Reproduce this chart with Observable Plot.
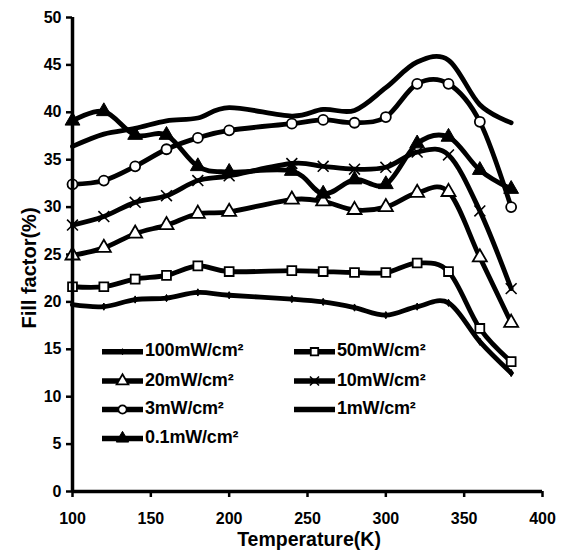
<!DOCTYPE html>
<html><head><meta charset="utf-8">
<script src="https://cdn.jsdelivr.net/npm/d3@7"></script>
<script src="https://cdn.jsdelivr.net/npm/@observablehq/plot@0.6"></script>
<style>
body{margin:0;background:#fff}
#chart{position:relative;width:564px;height:556px}
</style>
</head><body><div id="chart"></div>
<script>
// ---- data ----
const temperature = [100,120,140,160,180,200,240,260,280,300,320,340,360,380];
const seriesNames = ["100mW/cm²","50mW/cm²","20mW/cm²","10mW/cm²","3mW/cm²","1mW/cm²","0.1mW/cm²"];
const ff100 = [19.7,19.5,20.25,20.4,21.0,20.7,20.3,20.0,19.4,18.6,19.5,19.9,15.8,12.5];
const ff50  = [21.6,21.6,22.4,22.8,23.8,23.2,23.3,23.2,23.1,23.1,24.1,23.2,17.2,13.7];
const ff20  = [24.9,25.7,27.2,28.1,29.3,29.5,30.8,30.6,29.7,30.0,31.5,31.6,24.7,17.8];
const ff10  = [28.1,29.0,30.5,31.2,32.8,33.3,34.6,34.3,34.0,34.2,35.8,35.5,29.6,21.4];
const ff3   = [32.4,32.8,34.3,36.1,37.3,38.1,38.8,39.2,38.9,39.5,43.0,43.0,39.0,30.0];
const ff1   = [36.4,37.7,38.3,39.1,39.4,40.5,39.6,40.3,40.2,42.6,45.3,45.5,40.8,38.9];
const ff01  = [39.1,40.1,37.6,37.6,34.3,33.7,33.8,31.4,32.9,32.4,36.7,37.4,33.9,31.9];
const xTicks = [100,150,200,250,300,350,400];
const yTicks = [0,5,10,15,20,25,30,35,40,45,50];
const xTitle = "Temperature(K)";
const yTitle = "Fill factor(%)";

// ---- styling per series ----
const seriesValues = [ff100, ff50, ff20, ff10, ff3, ff1, ff01];
const markerStyle = [
  {symbol:"diamond", fill:"black", stroke:"black", r:2.2, sw:1},
  {symbol:"square", fill:"white", stroke:"black", r:5, sw:1.8},
  {symbol:"triangle", fill:"white", stroke:"black", r:5.2, sw:1.8},
  {symbol:"times", fill:"none", stroke:"black", r:5, sw:1.6},
  {symbol:"circle", fill:"white", stroke:"black", r:5, sw:1.8},
  null,
  {symbol:"triangle", fill:"black", stroke:"black", r:5.5, sw:1}
];

const data = seriesValues.flatMap((vals, i) =>
  vals.map((v, j) => ({T: temperature[j], ff: v, s: seriesNames[i], k: i})));

const FONT = "'Liberation Sans', Arial, Helvetica, sans-serif";

const dotMarks = markerStyle.map((m, i) => m ? Plot.dot(data.filter(d => d.k === i), {
  x: "T", y: "ff", symbol: () => m.symbol, r: m.r, fill: m.fill, stroke: m.stroke, strokeWidth: m.sw
}) : null).filter(Boolean);

const chart = Plot.plot({
  width: 564, height: 556,
  marginLeft: 72, marginRight: 22, marginTop: 17, marginBottom: 65,
  style: {fontFamily: FONT, fontWeight: "bold", fontSize: "16px", color: "black", background: "white"},
  x: {domain: [100, 400], ticks: xTicks},
  y: {domain: [0, 50], ticks: yTicks},
  symbol: {type: "identity"},
  marks: [
    Plot.axisX({ticks: xTicks, tickSize: 6, tickPadding: 15, strokeWidth: 2.5, label: null, fontSize: 16}),
    Plot.axisY({ticks: yTicks, tickSize: 6, tickPadding: 5, strokeWidth: 2.5, label: null, fontSize: 16}),
    Plot.line(data, {x: "T", y: "ff", z: "s", curve: "cardinal", stroke: "black", strokeWidth: 4.8, strokeLinejoin: "round"}),
    ...dotMarks,
    Plot.ruleX([100], {strokeWidth: 3.5}),
    Plot.ruleY([0], {strokeWidth: 3.5})
  ]
});
document.getElementById("chart").appendChild(chart);

// ---- titles & legend (drawn into the Plot svg) ----
const svg = d3.select(chart);
svg.append("text").attr("x", 309).attr("y", 541).attr("text-anchor", "middle")
  .attr("dominant-baseline", "middle").style("font", `bold 19.5px ${FONT}`).text(xTitle);
svg.append("text").attr("transform", "translate(31,268) rotate(-90)").attr("text-anchor", "middle")
  .attr("dominant-baseline", "middle").style("font", `bold 20px ${FONT}`).text(yTitle);

const legendOrder = [0,1,2,3,4,5,6];
const legendCols = [{x0: 102, x1: 143, tx: 145}, {x0: 294, x1: 335, tx: 337}];
const legendRows = [351.7, 381, 409.5, 438.5];
const symMap = {diamond: d3.symbolDiamond, square: d3.symbolSquare, triangle: d3.symbolTriangle, times: d3.symbolTimes, circle: d3.symbolCircle};
const lg = svg.append("g").attr("text-anchor", "start");
legendOrder.forEach((k, idx) => {
  const col = legendCols[idx % 2], y = legendRows[Math.floor(idx / 2)];
  const g = lg.append("g");
  g.append("line").attr("x1", col.x0).attr("x2", col.x1).attr("y1", y).attr("y2", y)
    .attr("stroke", "black").attr("stroke-width", 5.5);
  const m = markerStyle[k];
  if (m) {
    g.append("path").attr("transform", `translate(${(col.x0 + col.x1) / 2},${y})`)
      .attr("d", d3.symbol(symMap[m.symbol], m.r * m.r * Math.PI * 0.7)())
      .attr("fill", m.fill).attr("stroke", m.stroke).attr("stroke-width", m.sw);
  }
  g.append("text").attr("x", col.tx).attr("y", y).attr("text-anchor", "start")
    .attr("dominant-baseline", "middle")
    .style("font", `bold 18px ${FONT}`).style("letter-spacing", "-0.2px").text(seriesNames[k]);
});
</script>
</body></html>
